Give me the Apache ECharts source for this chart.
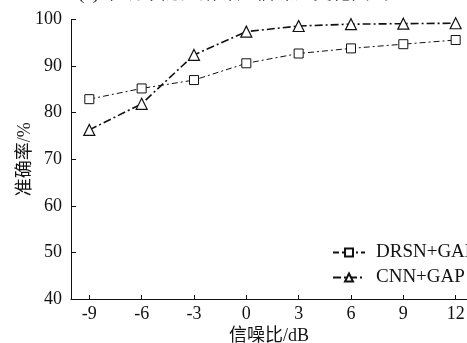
<!DOCTYPE html>
<html>
<head>
<meta charset="utf-8">
<script src="https://cdn.jsdelivr.net/npm/echarts@6/dist/echarts.min.js"></script>
<style>
  html, body { margin: 0; padding: 0; background: #fff; }
  #chart { width: 467px; height: 343px; }
</style>
</head>
<body>
<div id="chart"></div>
<script>
// SNR levels (dB) and accuracy (%) of the two models
const snrLevels = [-9, -6, -3, 0, 3, 6, 9, 12];
const drsnGap = [82.9, 85.2, 87.0, 90.6, 92.7, 93.8, 94.7, 95.6];
const cnnGap = [76.3, 81.9, 92.4, 97.4, 98.6, 99.0, 99.1, 99.2];
const yTicks = [40, 50, 60, 70, 80, 90, 100];

const FONT = '"Liberation Serif", "Times New Roman", "Noto Sans CJK SC", serif';
const INK = '#111';

const pairs = (ys) => snrLevels.map((x, i) => [x, ys[i]]);

const chart = echarts.init(document.getElementById('chart'), null, { renderer: 'canvas' });
chart.setOption({
  animation: false,
  backgroundColor: '#fff',
  title: {
    text: '(a) 准确率随高斯噪声信噪比变化曲线',
    left: 'center',
    top: -20,
    textStyle: { fontFamily: FONT, fontSize: 19, fontWeight: 'normal', color: INK }
  },
  legend: {
    orient: 'vertical',
    left: 327,
    top: 238,
    itemWidth: 32,
    itemHeight: 10,
    itemGap: 6,
    textStyle: { fontFamily: FONT, fontSize: 19, color: INK, padding: [0, 0, 0, 6] },
    data: ['DRSN+GAP', 'CNN+GAP']
  },
  grid: { left: 71, right: 0, top: 19.5, bottom: 44, containLabel: false, outerBoundsMode: 'none' },
  xAxis: {
    type: 'value',
    min: -10.05,
    max: 12.65,
    name: '信噪比/dB',
    nameLocation: 'middle',
    nameGap: 28,
    nameMoveOverlap: false,
    nameTextStyle: { fontFamily: FONT, fontSize: 18, color: INK },
    axisLine: { onZero: false, lineStyle: { color: INK, width: 1 } },
    axisTick: { inside: true, length: 4, customValues: snrLevels, lineStyle: { color: INK } },
    axisLabel: { customValues: snrLevels, margin: 6, fontFamily: FONT, fontSize: 18, color: INK },
    splitLine: { show: false }
  },
  yAxis: {
    type: 'value',
    min: 40,
    max: 100,
    interval: 10,
    name: '准确率/%',
    nameLocation: 'middle',
    nameRotate: 90,
    nameGap: 37,
    nameMoveOverlap: false,
    nameTextStyle: { fontFamily: FONT, fontSize: 18, color: INK },
    axisLine: { show: true, onZero: false, lineStyle: { color: INK, width: 1 } },
    axisTick: { show: true, inside: true, length: 5, lineStyle: { color: INK } },
    axisLabel: { margin: 9, fontFamily: FONT, fontSize: 18, color: INK,
      formatter: (v) => yTicks.includes(v) ? String(v) : '' },
    splitLine: { show: false }
  },
  series: [
    {
      name: 'DRSN+GAP',
      type: 'line',
      data: pairs(drsnGap),
      symbol: 'rect',
      symbolSize: 9,
      itemStyle: { color: '#fff', borderColor: INK, borderWidth: 1 },
      lineStyle: { color: INK, width: 1, type: [6, 3, 2, 3] }
    },
    {
      name: 'CNN+GAP',
      type: 'line',
      data: pairs(cnnGap),
      symbol: 'triangle',
      symbolSize: 11,
      itemStyle: { color: '#fff', borderColor: INK, borderWidth: 1.2 },
      lineStyle: { color: INK, width: 1.6, type: [8, 3, 2, 3] }
    }
  ]
});
</script>
</body>
</html>
